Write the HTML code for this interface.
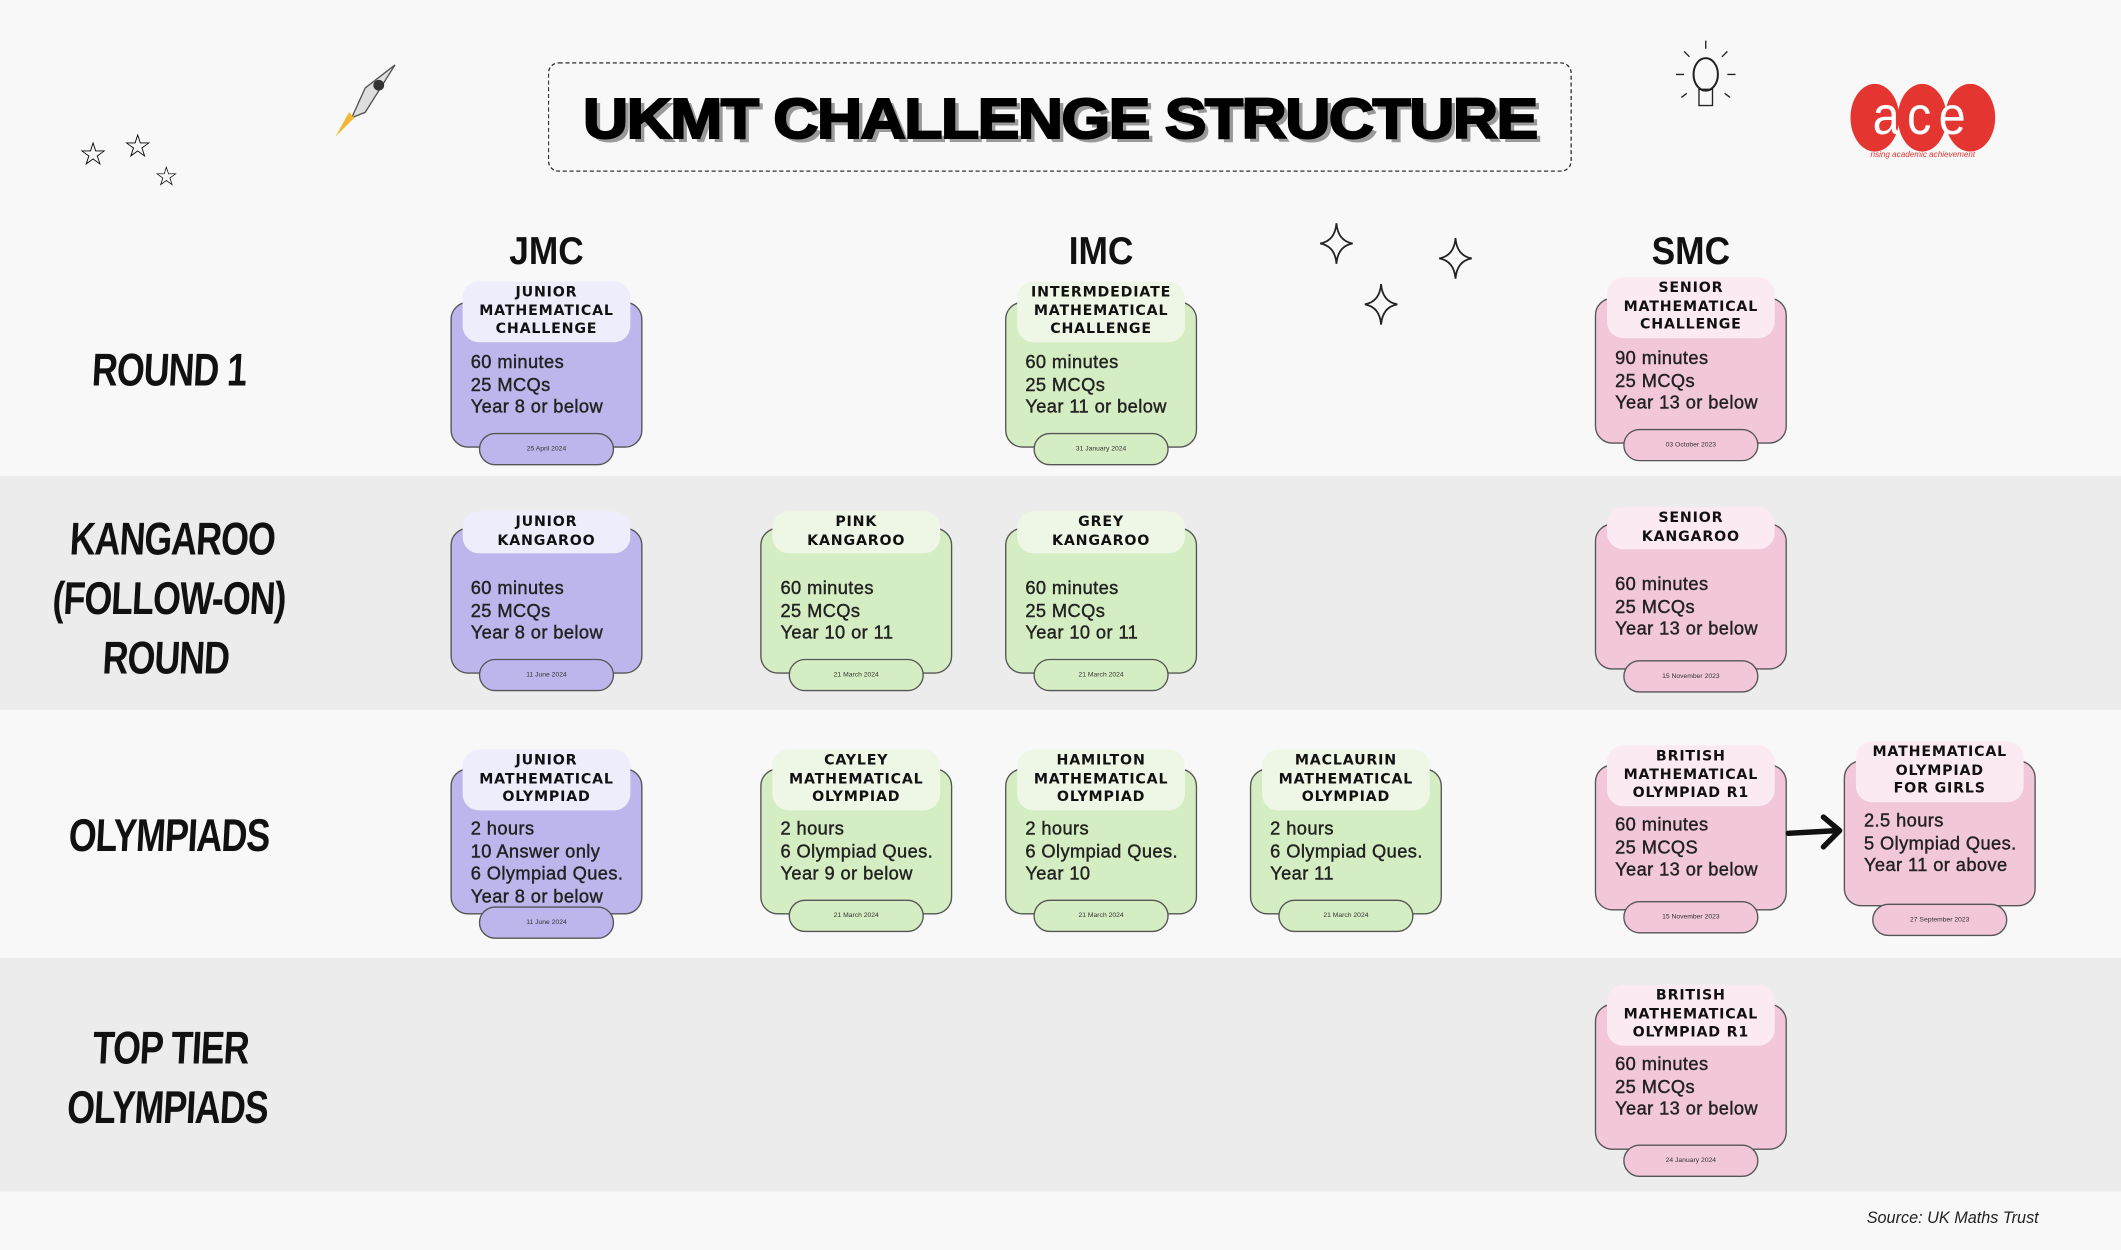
<!DOCTYPE html>
<html><head><meta charset="utf-8"><style>
html,body{margin:0;padding:0;}
body{width:2121px;height:1250px;overflow:hidden;background:#f8f8f8;}
#s{position:absolute;left:0;top:0;width:1568px;height:924px;transform-origin:0 0;transform:scale(1.35268,1.35281);font-family:"Liberation Sans",sans-serif;}
.band{position:absolute;left:0;width:1568px;}
.lab{position:absolute;width:250px;text-align:center;font-family:"Liberation Sans Narrow","Liberation Sans",sans-serif;font-weight:bold;font-size:34px;line-height:44px;color:#111;transform:scaleX(0.78) skewX(-4deg);letter-spacing:-1px;}
.hd{position:absolute;width:120px;text-align:center;font-weight:bold;font-size:29px;color:#111;transform:scaleX(0.9);}
.c{position:absolute;width:142px;height:108px;}
.c .b{position:absolute;left:0;top:0;width:140px;height:106px;border:1px solid #555;border-radius:13px;}
.c .t{position:absolute;left:9px;width:124px;border-radius:12px;text-align:center;font-family:"DejaVu Sans",sans-serif;font-weight:bold;font-size:10.5px;line-height:13.5px;letter-spacing:0.6px;color:#111;padding:2px 0;}
.c .x{position:absolute;left:15px;top:37px;font-size:13.5px;line-height:16.5px;color:#222;letter-spacing:0.3px;white-space:nowrap;-webkit-text-stroke:0.3px #222;}
.c .d{position:absolute;left:21px;top:97px;width:98px;height:22px;border:1px solid #555;border-radius:12px;font-size:5px;text-align:center;line-height:22px;color:#333;}
.L .b,.L .d{background:#bdb6ec}.L .t{background:#eeedfb}
.G .b,.G .d{background:#d5edc2}.G .t{background:#eef7e6}
.P .b,.P .d{background:#f2c7d9}.P .t{background:#fbeaf1}
.sp{position:absolute;}
</style></head><body><div id="s">
<div class="band" style="top:0;height:352px;background:#f8f8f8"></div>
<div class="band" style="top:352px;height:173px;background:#ececec"></div>
<div class="band" style="top:525px;height:183px;background:#f8f8f8"></div>
<div class="band" style="top:708px;height:173px;background:#ececec"></div>
<div class="band" style="top:881px;height:43px;background:#f8f8f8"></div>

<div style="position:absolute;left:405px;top:46px;width:755px;height:79px;border:1.5px dashed #333;border-radius:8px;"></div>
<div style="position:absolute;left:405px;top:64px;width:757px;text-align:center;font-family:'Liberation Sans',sans-serif;font-weight:900;font-size:42px;letter-spacing:-1px;color:#000;text-shadow:3px 3px 0 #999;transform:scaleX(1.1);-webkit-text-stroke:1.5px #000;">UKMT CHALLENGE STRUCTURE</div>

<div class="sp" style="left:58px;top:100px;font-size:24px;">☆</div>
<div class="sp" style="left:91px;top:94px;font-size:24px;">☆</div>
<div class="sp" style="left:114px;top:118px;font-size:20px;">☆</div>
<svg class="sp" style="left:240px;top:45px" width="60" height="60"><path d="M52 3 L30 20 L20 42 L30 38 Z" fill="#ddd" stroke="#555"/><circle cx="40" cy="18" r="4" fill="#333"/><path d="M22 42 L8 56 L18 38Z" fill="#f0b830"/></svg>
<svg class="sp" style="left:1235px;top:28px" width="55" height="58"><ellipse cx="26" cy="27" rx="9" ry="12" fill="none" stroke="#222" stroke-width="1.5"/><rect x="21" y="38" width="10" height="12" fill="none" stroke="#222"/><path d="M26 2v6M10 10l4 4M42 10l-4 4M4 27h6M42 27h6M8 44l4-3M44 44l-4-3" stroke="#222"/></svg>
<div class="sp" style="left:1368px;top:62px;width:36px;height:50px;border-radius:50%;background:#e53530"></div>
<div class="sp" style="left:1403px;top:62px;width:36px;height:50px;border-radius:50%;background:#e53530"></div>
<div class="sp" style="left:1438px;top:62px;width:37px;height:50px;border-radius:50%;background:#e53530"></div>
<div class="sp" style="left:1368px;top:64px;width:107px;text-align:center;color:#fff;font-size:40px;letter-spacing:6px;transform:scaleX(0.9);">ace</div>
<div class="sp" style="left:1368px;top:112px;width:107px;text-align:center;color:#e53530;font-size:6px;font-style:italic;">rising academic achievement</div>
<svg class="sp" style="left:972px;top:162px" width="120" height="80"><g fill="none" stroke="#222" stroke-width="1.3"><path d="M16 3 Q17 16 28 18 Q17 20 16 33 Q15 20 4 18 Q15 16 16 3Z"/><path d="M104 14 Q105 27 116 29 Q105 31 104 44 Q103 31 92 29 Q103 27 104 14Z"/><path d="M49 48 Q50 61 61 63 Q50 65 49 78 Q48 65 37 63 Q48 61 49 48Z"/></g></svg>

<div class="lab" style="left:0;top:252px">ROUND 1</div>
<div class="lab" style="left:0;top:377px">KANGAROO<br>(FOLLOW-ON)<br>ROUND</div>
<div class="lab" style="left:0;top:596px">OLYMPIADS</div>
<div class="lab" style="left:0;top:753px">TOP TIER<br>OLYMPIADS</div>

<div class="hd" style="left:344px;top:170px">JMC</div>
<div class="hd" style="left:754px;top:170px">IMC</div>
<div class="hd" style="left:1190px;top:170px">SMC</div>

<div class="c L" style="left:333px;top:223px"><div class="b"></div><div class="t" style="top:-15px">JUNIOR<br>MATHEMATICAL<br>CHALLENGE</div><div class="x">60 minutes<br>25 MCQs<br>Year 8 or below</div><div class="d">25 April 2024</div></div>
<div class="c G" style="left:743px;top:223px"><div class="b"></div><div class="t" style="top:-15px">INTERMDEDIATE<br>MATHEMATICAL<br>CHALLENGE</div><div class="x">60 minutes<br>25 MCQs<br>Year 11 or below</div><div class="d">31 January 2024</div></div>
<div class="c P" style="left:1179px;top:220px"><div class="b"></div><div class="t" style="top:-15px">SENIOR<br>MATHEMATICAL<br>CHALLENGE</div><div class="x">90 minutes<br>25 MCQs<br>Year 13 or below</div><div class="d">03 October 2023</div></div>

<div class="c L" style="left:333px;top:390px"><div class="b"></div><div class="t" style="top:-12px">JUNIOR<br>KANGAROO</div><div class="x">60 minutes<br>25 MCQs<br>Year 8 or below</div><div class="d">11 June 2024</div></div>
<div class="c G" style="left:562px;top:390px"><div class="b"></div><div class="t" style="top:-12px">PINK<br>KANGAROO</div><div class="x">60 minutes<br>25 MCQs<br>Year 10 or 11</div><div class="d">21 March 2024</div></div>
<div class="c G" style="left:743px;top:390px"><div class="b"></div><div class="t" style="top:-12px">GREY<br>KANGAROO</div><div class="x">60 minutes<br>25 MCQs<br>Year 10 or 11</div><div class="d">21 March 2024</div></div>
<div class="c P" style="left:1179px;top:387px"><div class="b"></div><div class="t" style="top:-12px">SENIOR<br>KANGAROO</div><div class="x">60 minutes<br>25 MCQs<br>Year 13 or below</div><div class="d" style="top:101px">15 November 2023</div></div>

<div class="c L" style="left:333px;top:568px"><div class="b"></div><div class="t" style="top:-14px">JUNIOR<br>MATHEMATICAL<br>OLYMPIAD</div><div class="x">2 hours<br>10 Answer only<br>6 Olympiad Ques.<br>Year 8 or below</div><div class="d" style="top:102px">11 June 2024</div></div>
<div class="c G" style="left:562px;top:568px"><div class="b"></div><div class="t" style="top:-14px">CAYLEY<br>MATHEMATICAL<br>OLYMPIAD</div><div class="x">2 hours<br>6 Olympiad Ques.<br>Year 9 or below</div><div class="d">21 March 2024</div></div>
<div class="c G" style="left:743px;top:568px"><div class="b"></div><div class="t" style="top:-14px">HAMILTON<br>MATHEMATICAL<br>OLYMPIAD</div><div class="x">2 hours<br>6 Olympiad Ques.<br>Year 10</div><div class="d">21 March 2024</div></div>
<div class="c G" style="left:924px;top:568px"><div class="b"></div><div class="t" style="top:-14px">MACLAURIN<br>MATHEMATICAL<br>OLYMPIAD</div><div class="x">2 hours<br>6 Olympiad Ques.<br>Year 11</div><div class="d">21 March 2024</div></div>
<div class="c P" style="left:1179px;top:565px"><div class="b"></div><div class="t" style="top:-14px">BRITISH<br>MATHEMATICAL<br>OLYMPIAD R1</div><div class="x">60 minutes<br>25 MCQS<br>Year 13 or below</div><div class="d" style="top:101px">15 November 2023</div></div>
<div class="c P" style="left:1363px;top:562px"><div class="b"></div><div class="t" style="top:-14px">MATHEMATICAL<br>OLYMPIAD<br>FOR GIRLS</div><div class="x">2.5 hours<br>5 Olympiad Ques.<br>Year 11 or above</div><div class="d" style="top:106px">27 September 2023</div></div>
<svg class="sp" style="left:1320px;top:600px" width="46" height="30"><path d="M2 16 L38 14 M28 4 L40 14 L28 26" fill="none" stroke="#111" stroke-width="4" stroke-linecap="round" stroke-linejoin="round"/></svg>

<div class="c P" style="left:1179px;top:742px"><div class="b"></div><div class="t" style="top:-14px">BRITISH<br>MATHEMATICAL<br>OLYMPIAD R1</div><div class="x">60 minutes<br>25 MCQs<br>Year 13 or below</div><div class="d" style="top:104px">24 January 2024</div></div>

<div class="sp" style="left:1380px;top:893px;font-size:12px;font-style:italic;color:#222;">Source: UK Maths Trust</div>
</div></body></html>
